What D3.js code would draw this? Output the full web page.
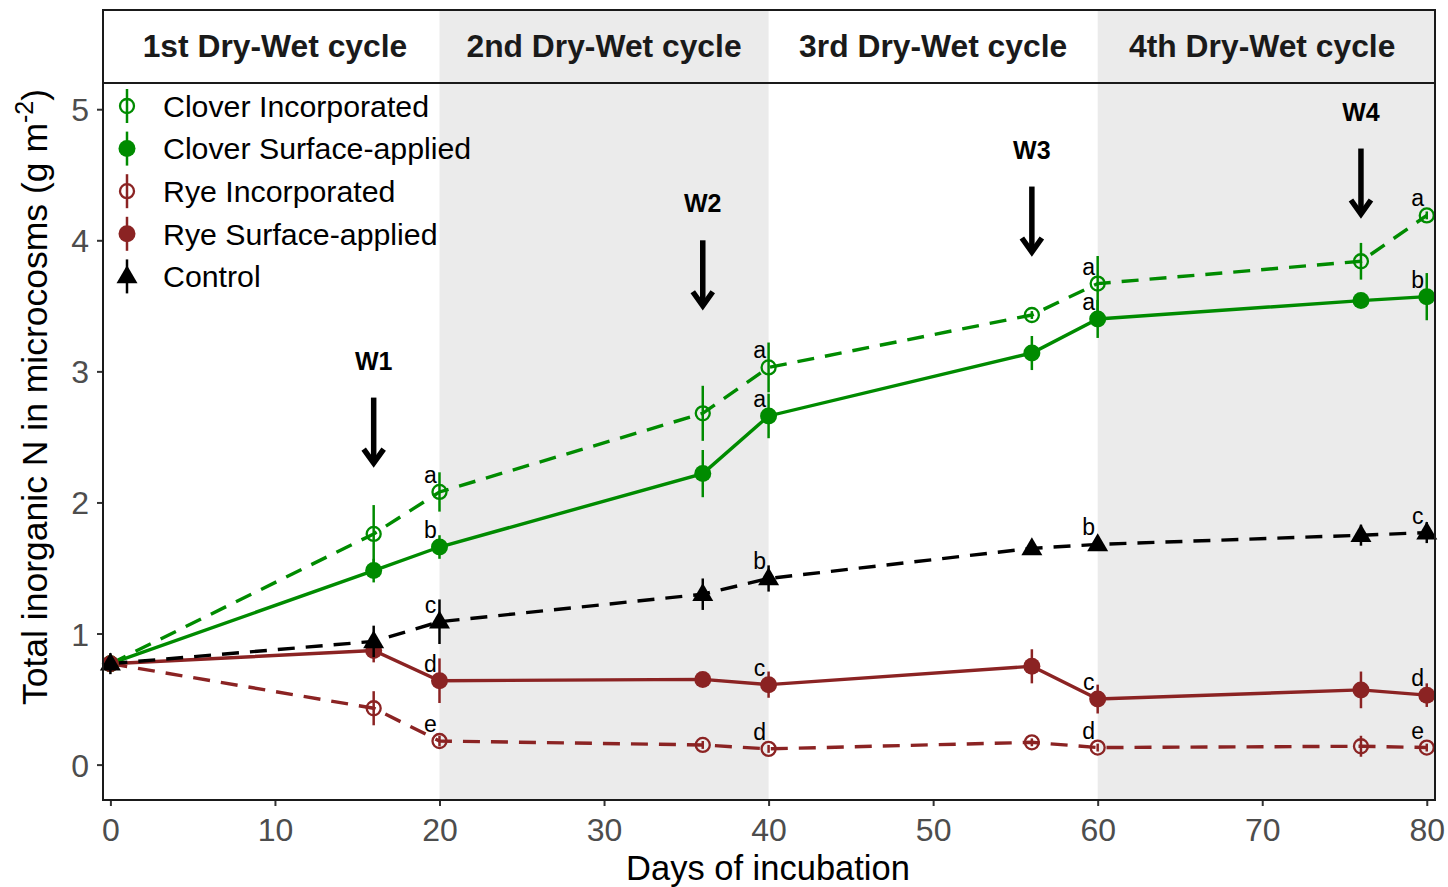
<!DOCTYPE html>
<html>
<head>
<meta charset="utf-8">
<script src="https://cdn.jsdelivr.net/npm/d3@7"></script>
<style>
  html, body { margin: 0; padding: 0; background: #ffffff; }
  svg { display: block; font-family: "Liberation Sans", Arial, Helvetica, sans-serif; }
</style>
</head>
<body>
<svg id="chart" width="1448" height="887"></svg>
<script>
// Sampling days and treatment means (g N m-2) with error half-widths
const days = [0, 16, 20, 36, 40, 56, 60, 76, 80];

const cloverInc     = [0.77, 1.76, 2.08, 2.68, 3.03, 3.43, 3.67, 3.84, 4.19];
const cloverIncErr  = [0.05, 0.22, 0.15, 0.21, 0.19, 0.03, 0.21, 0.14, 0.03];
const cloverSurf    = [0.77, 1.48, 1.66, 2.22, 2.66, 3.14, 3.40, 3.54, 3.57];
const cloverSurfErr = [0.05, 0.09, 0.09, 0.18, 0.17, 0.13, 0.145, 0.03, 0.18];
const ryeInc        = [0.77, 0.43, 0.18, 0.15, 0.12, 0.17, 0.13, 0.14, 0.13];
const ryeIncErr     = [0.04, 0.13, 0.04, 0.03, 0.03, 0.03, 0.03, 0.08, 0.03];
const ryeSurf       = [0.77, 0.87, 0.64, 0.65, 0.61, 0.75, 0.50, 0.57, 0.53];
const ryeSurfErr    = [0.05, 0.09, 0.17, 0.03, 0.10, 0.13, 0.11, 0.14, 0.09];
const control       = [0.77, 0.94, 1.09, 1.30, 1.42, 1.65, 1.68, 1.75, 1.77];
const controlErr    = [0.08, 0.12, 0.17, 0.12, 0.10, 0.04, 0.05, 0.08, 0.08];

// Significance letters at the end of each dry-wet cycle
const letterDays        = [20, 40, 60, 80];
const cloverIncLetters  = ["a", "a", "a", "a"];
const cloverSurfLetters = ["b", "a", "a", "b"];
const controlLetters    = ["c", "b", "b", "c"];
const ryeSurfLetters    = ["d", "c", "c", "d"];
const ryeIncLetters     = ["e", "d", "d", "e"];

// Dry-wet cycles
const cycleLabels = ["1st Dry-Wet cycle", "2nd Dry-Wet cycle", "3rd Dry-Wet cycle", "4th Dry-Wet cycle"];
const cycleStart  = [0, 20, 40, 60];
const cycleEnd    = [20, 40, 60, 80];

// Rewetting events
const wetLabels   = ["W1", "W2", "W3", "W4"];
const wetDays     = [16, 36, 56, 76];
const wetArrowTop = [2.80, 4.00, 4.41, 4.70];
const wetArrowLen = 0.53;

// Axis ticks
const xTicks = [0, 10, 20, 30, 40, 50, 60, 70, 80];
const yTicks = [0, 1, 2, 3, 4, 5];

const GREEN = "#008B00";
const RED = "#8B2323";

const series = [
  { name: "Clover Incorporated",    values: cloverInc,  err: cloverIncErr,  color: GREEN,  shape: "open",     dashed: true,  letters: cloverIncLetters },
  { name: "Clover Surface-applied", values: cloverSurf, err: cloverSurfErr, color: GREEN,  shape: "filled",   dashed: false, letters: cloverSurfLetters },
  { name: "Rye Incorporated",       values: ryeInc,     err: ryeIncErr,     color: RED,    shape: "open",     dashed: true,  letters: ryeIncLetters },
  { name: "Rye Surface-applied",    values: ryeSurf,    err: ryeSurfErr,    color: RED,    shape: "filled",   dashed: false, letters: ryeSurfLetters },
  { name: "Control",                values: control,    err: controlErr,    color: "#000", shape: "triangle", dashed: true,  letters: controlLetters }
];

const svg = d3.select("#chart");

// Panel geometry
const P = { left: 103, right: 1435, top: 83, bottom: 800, stripTop: 10 };

const x = d3.scaleLinear().domain([-0.45, 80.5]).range([P.left, P.right]);
const y = d3.scaleLinear().domain([-0.27, 5.2]).range([P.bottom, P.top]);

const BAND = "#EBEBEB";

// Shaded cycles in the panel and in the header strip
cycleLabels.forEach((lab, i) => {
  if (i % 2 === 1) {
    const x0 = x(cycleStart[i]);
    const x1 = i === cycleLabels.length - 1 ? P.right : x(cycleEnd[i]);
    svg.append("rect").attr("x", x0).attr("y", P.top).attr("width", x1 - x0)
      .attr("height", P.bottom - P.top).attr("fill", BAND);
    svg.append("rect").attr("x", x0).attr("y", P.stripTop).attr("width", x1 - x0)
      .attr("height", P.top - P.stripTop).attr("fill", BAND);
  }
  svg.append("text")
    .attr("x", x((cycleStart[i] + cycleEnd[i]) / 2))
    .attr("y", 57)
    .attr("text-anchor", "middle")
    .attr("font-size", 31.8)
    .attr("font-weight", "bold")
    .attr("fill", "#1A1A1A")
    .text(lab);
});

// Axes
const xAxis = svg.append("g").attr("transform", `translate(0,${P.bottom})`)
  .call(d3.axisBottom(x).tickValues(xTicks).tickFormat(d3.format("d")).tickSize(6).tickSizeOuter(0));
const yAxis = svg.append("g").attr("transform", `translate(${P.left},0)`)
  .call(d3.axisLeft(y).tickValues(yTicks).tickFormat(d3.format("d")).tickSize(6).tickSizeOuter(0));

[xAxis, yAxis].forEach(g => {
  g.select(".domain").remove();
  g.selectAll(".tick line").attr("stroke", "#333").attr("stroke-width", 2);
  g.selectAll(".tick text").attr("fill", "#4D4D4D").attr("font-size", 32)
    .attr("font-family", "'Liberation Sans', Arial, sans-serif");
});
xAxis.selectAll(".tick text").attr("dy", null).attr("y", 41);
yAxis.selectAll(".tick text").attr("dy", "0.36em").attr("x", -14);

// Axis titles
svg.append("text")
  .attr("x", 768).attr("y", 880)
  .attr("text-anchor", "middle").attr("font-size", 34.5).attr("fill", "#000")
  .text("Days of incubation");

const yt = svg.append("text")
  .attr("transform", "translate(47,397) rotate(-90)")
  .attr("text-anchor", "middle").attr("font-size", 35.5).attr("fill", "#000");
yt.append("tspan").text("Total inorganic N in microcosms (g m");
yt.append("tspan").attr("font-size", 25).attr("dy", -14).text("-2");
yt.append("tspan").attr("dy", 14).text(")");

// Lines
const line = d3.line().x((d, i) => x(days[i])).y(d => y(d));
series.forEach(s => {
  svg.append("path")
    .datum(s.values)
    .attr("d", line)
    .attr("fill", "none")
    .attr("stroke", s.color)
    .attr("stroke-width", 3.4)
    .attr("stroke-dasharray", s.dashed ? "17,11" : null);
});

// Marker drawing helper
function drawMarker(g, cx, cy, s) {
  if (s.shape === "open") {
    g.append("circle").attr("cx", cx).attr("cy", cy).attr("r", 7)
      .attr("fill", "none").attr("stroke", s.color).attr("stroke-width", 2.3);
  } else if (s.shape === "filled") {
    g.append("circle").attr("cx", cx).attr("cy", cy).attr("r", 8.5).attr("fill", s.color);
  } else {
    const h = 18, w = 10.5;
    g.append("path")
      .attr("d", `M${cx},${cy - h * 0.62} L${cx + w},${cy + h * 0.38} L${cx - w},${cy + h * 0.38} Z`)
      .attr("fill", s.color);
  }
}

// Error bars and points
series.forEach(s => {
  const g = svg.append("g");
  s.values.forEach((v, i) => {
    g.append("line")
      .attr("x1", x(days[i])).attr("x2", x(days[i]))
      .attr("y1", y(v - s.err[i])).attr("y2", y(v + s.err[i]))
      .attr("stroke", s.color).attr("stroke-width", 2.5);
    drawMarker(g, x(days[i]), y(v), s);
  });
});

// Significance letters
series.forEach(s => {
  letterDays.forEach((d, k) => {
    const i = days.indexOf(d);
    svg.append("text")
      .attr("x", x(d) - 9).attr("y", y(s.values[i]) - 9)
      .attr("text-anchor", "middle").attr("font-size", 23).attr("fill", "#000")
      .text(s.letters[k]);
  });
});

// Rewetting arrows
wetDays.forEach((d, i) => {
  const cx = x(d);
  const top = y(wetArrowTop[i]);
  const tip = y(wetArrowTop[i] - wetArrowLen);
  svg.append("line").attr("x1", cx).attr("x2", cx).attr("y1", top).attr("y2", tip - 4)
    .attr("stroke", "#000").attr("stroke-width", 5.5);
  svg.append("path")
    .attr("d", `M${cx - 10},${tip - 18} L${cx},${tip - 4} L${cx + 10},${tip - 18}`)
    .attr("fill", "none").attr("stroke", "#000").attr("stroke-width", 5.5)
    .attr("stroke-linejoin", "miter").attr("stroke-miterlimit", 10);
  svg.append("text")
    .attr("x", cx).attr("y", top - 28)
    .attr("text-anchor", "middle").attr("font-size", 25).attr("font-weight", "bold")
    .attr("fill", "#000").text(wetLabels[i]);
});

// Legend
const legend = svg.append("g");
series.forEach((s, i) => {
  const ly = 106 + i * 42.6;
  legend.append("line").attr("x1", 127).attr("x2", 127)
    .attr("y1", ly - 17).attr("y2", ly + 17)
    .attr("stroke", s.color).attr("stroke-width", 2.5);
  drawMarker(legend, 127, ly, s);
  legend.append("text").attr("x", 163).attr("y", ly + 10.8)
    .attr("font-size", 30.3).attr("fill", "#000").text(s.name);
});

// Panel and strip borders
svg.append("rect").attr("x", P.left).attr("y", P.stripTop)
  .attr("width", P.right - P.left).attr("height", P.top - P.stripTop)
  .attr("fill", "none").attr("stroke", "#1A1A1A").attr("stroke-width", 2);
svg.append("rect").attr("x", P.left).attr("y", P.top)
  .attr("width", P.right - P.left).attr("height", P.bottom - P.top)
  .attr("fill", "none").attr("stroke", "#1A1A1A").attr("stroke-width", 2);
</script>
</body>
</html>
